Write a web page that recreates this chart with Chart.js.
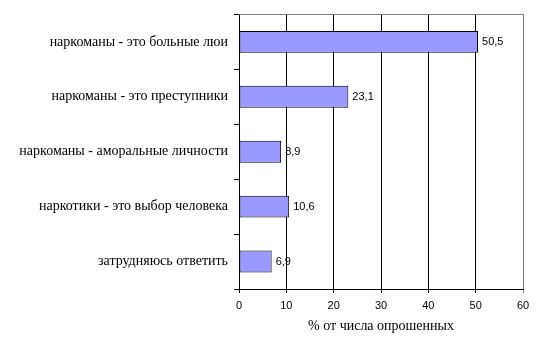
<!DOCTYPE html>
<html>
<head>
<meta charset="utf-8">
<script src="https://cdn.jsdelivr.net/npm/chart.js@4/dist/chart.umd.min.js"></script>
<style>
html,body{margin:0;padding:0;background:#fff;}
#wrap{width:545px;height:352px;position:relative;}
</style>
</head>
<body>
<div id="wrap"><canvas id="c" width="545" height="352"></canvas></div>
<script>
const categories = [
  "наркоманы - это больные люи",
  "наркоманы - это преступники",
  "наркоманы - аморальные личности",
  "наркотики - это выбор человека",
  "затрудняюсь ответить"
];
const values = [50.5, 23.1, 8.9, 10.6, 6.9];
const valueLabels = ["50,5", "23,1", "8,9", "10,6", "6,9"];
const xTicks = [0, 10, 20, 30, 40, 50, 60];
const xTitle = "% от числа опрошенных";

const frame = {
  id: 'frame',
  afterDatasetsDraw(chart) {
    const ctx = chart.ctx, a = chart.chartArea;
    ctx.save();
    ctx.strokeStyle = '#808080';
    ctx.lineWidth = 1;
    ctx.beginPath();
    ctx.moveTo(a.left, Math.round(a.top) + 0.5);
    ctx.lineTo(Math.round(a.right) + 0.5, Math.round(a.top) + 0.5);
    ctx.stroke();
    // value labels
    const meta = chart.getDatasetMeta(0);
    ctx.fillStyle = '#000';
    ctx.font = '11px "Liberation Sans", Arial, sans-serif';
    ctx.textAlign = 'left';
    ctx.textBaseline = 'middle';
    meta.data.forEach((bar, i) => {
      ctx.fillText(valueLabels[i], bar.x + 4, bar.y);
    });
    ctx.restore();
  }
};

new Chart(document.getElementById('c'), {
  type: 'bar',
  data: {
    labels: categories,
    datasets: [{
      data: values,
      backgroundColor: '#9999FF',
      borderColor: '#000000',
      borderWidth: 1,
      borderSkipped: false,
      categoryPercentage: 1,
      barPercentage: 0.4
    }]
  },
  options: {
    indexAxis: 'y',
    responsive: false,
    animation: false,
    devicePixelRatio: 1,
    layout: { padding: { left: 0, right: 22, top: 13, bottom: 0 } },
    plugins: { legend: { display: false }, tooltip: { enabled: false } },
    scales: {
      y: {
        afterFit(s) { s.width = 239; },
        grid: {
          drawOnChartArea: false,
          drawTicks: true,
          tickLength: 5,
          color: '#000',
          offset: true
        },
        border: { color: '#000', width: 1 },
        ticks: {
          color: '#000',
          padding: 6,
          font: { family: '"Liberation Serif", "Times New Roman", serif', size: 14 }
        }
      },
      x: {
        min: 0, max: 60,
        afterBuildTicks(s) { s.ticks = xTicks.map(v => ({ value: v })); },
        afterFit(s) { s.height = 63; },
        grid: {
          color: (c) => (c.tick && c.tick.value === 60) ? '#808080' : '#000',
          drawTicks: true,
          tickLength: 4,
          lineWidth: 1
        },
        border: { color: '#000', width: 1 },
        ticks: {
          color: '#000',
          padding: 6,
          maxRotation: 0,
          font: { family: '"Liberation Sans", Arial, sans-serif', size: 11 }
        },
        title: {
          display: true,
          text: xTitle,
          color: '#000',
          padding: { top: 4, bottom: 17 },
          font: { family: '"Liberation Serif", "Times New Roman", serif', size: 14 }
        }
      }
    }
  },
  plugins: [frame]
});
</script>
</body>
</html>
